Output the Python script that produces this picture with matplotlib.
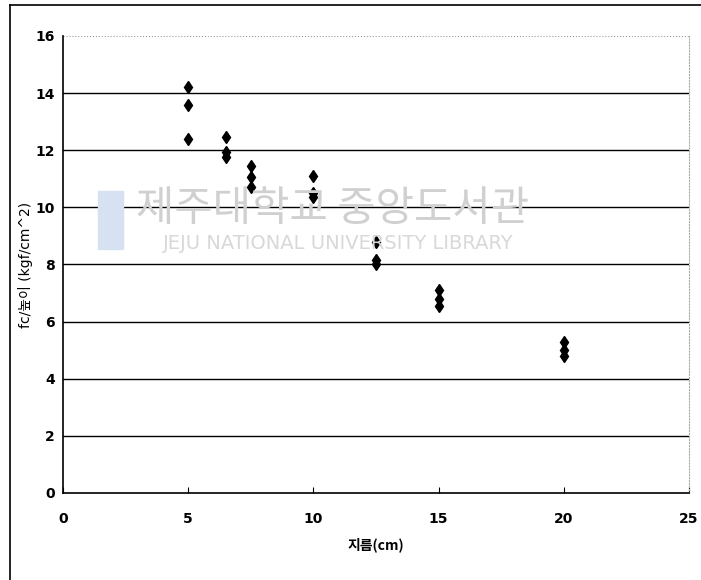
import numpy as np
import matplotlib.pyplot as plt
from matplotlib.lines import Line2D

plt.rcParams['font.family'] = ['DejaVu Sans', 'Noto Sans CJK KR']

# diameter (cm) and fc/height values
diam = [5, 5, 5, 6.5, 6.5, 6.5, 7.5, 7.5, 7.5, 10, 10, 10,
        12.5, 12.5, 12.5, 15, 15, 15, 20, 20, 20]
fc_h = [14.2, 13.6, 12.4, 12.45, 11.95, 11.75, 11.45, 11.05, 10.7, 11.1, 10.5, 10.35,
        8.8, 8.15, 8.0, 7.1, 6.8, 6.55, 5.3, 5.0, 4.8]

xticks = [0, 5, 10, 15, 20, 25]
yticks = [0, 2, 4, 6, 8, 10, 12, 14, 16]

fig = plt.figure(figsize=(7.01, 5.80), dpi=100)
ax = fig.add_axes([0.0899, 0.15, 0.893, 0.788])

for yv in yticks[1:-1]:
    ax.axhline(yv, color='black', lw=1.0, zorder=1)
ax.axhline(16, color='#999999', lw=0.8, ls=':', zorder=1)

ax.plot(diam, fc_h, linestyle='none', marker='d', ms=6.5, color='black', zorder=3)

ax.set_xlim(0, 25)
ax.set_ylim(0, 16)
ax.set_xticks(xticks)
ax.set_yticks(yticks)
ax.tick_params(axis='x', direction='in', length=4, pad=14, labelsize=10)
ax.tick_params(axis='y', length=0, pad=6, labelsize=10)
for lab in ax.get_xticklabels() + ax.get_yticklabels():
    lab.set_fontweight('bold')

ax.spines['top'].set_visible(False)
ax.spines['right'].set_color('#aaaaaa')
ax.spines['right'].set_linestyle(':')
ax.spines['left'].set_linewidth(1.2)
ax.spines['bottom'].set_linewidth(1.2)

ax.set_ylabel('fc/높이 (kgf/cm^2)', fontsize=10,
              family=['DejaVu Sans', 'Noto Sans CJK KR'])
ax.yaxis.set_label_coords(-0.048, 0.5)
ax.set_xlabel('지름(cm)', fontsize=10, labelpad=8, fontweight='bold',
              family=['Noto Sans CJK KR', 'DejaVu Sans'])

# library watermark
fig.text(0.475, 0.638, '제주대학교 중앙도서관', fontsize=30, color='#d0d0d0',
         ha='center', va='center', family=['Noto Sans CJK KR'], zorder=0)
fig.text(0.482, 0.581, 'JEJU NATIONAL UNIVERSITY LIBRARY', fontsize=14,
         color='#d8d8d8', ha='center', va='center', zorder=0)
fig.patches.append(plt.Rectangle((0.14, 0.57), 0.035, 0.1, transform=fig.transFigure,
                                 color='#d6e2f2', zorder=0))

# outer frame from the scanned page
fig.add_artist(Line2D([0.014, 1.0], [0.991, 0.991], color='black', lw=1.2))
fig.add_artist(Line2D([0.014, 0.014], [0.0, 0.991], color='black', lw=1.2))

plt.savefig('out.png', dpi=100)
